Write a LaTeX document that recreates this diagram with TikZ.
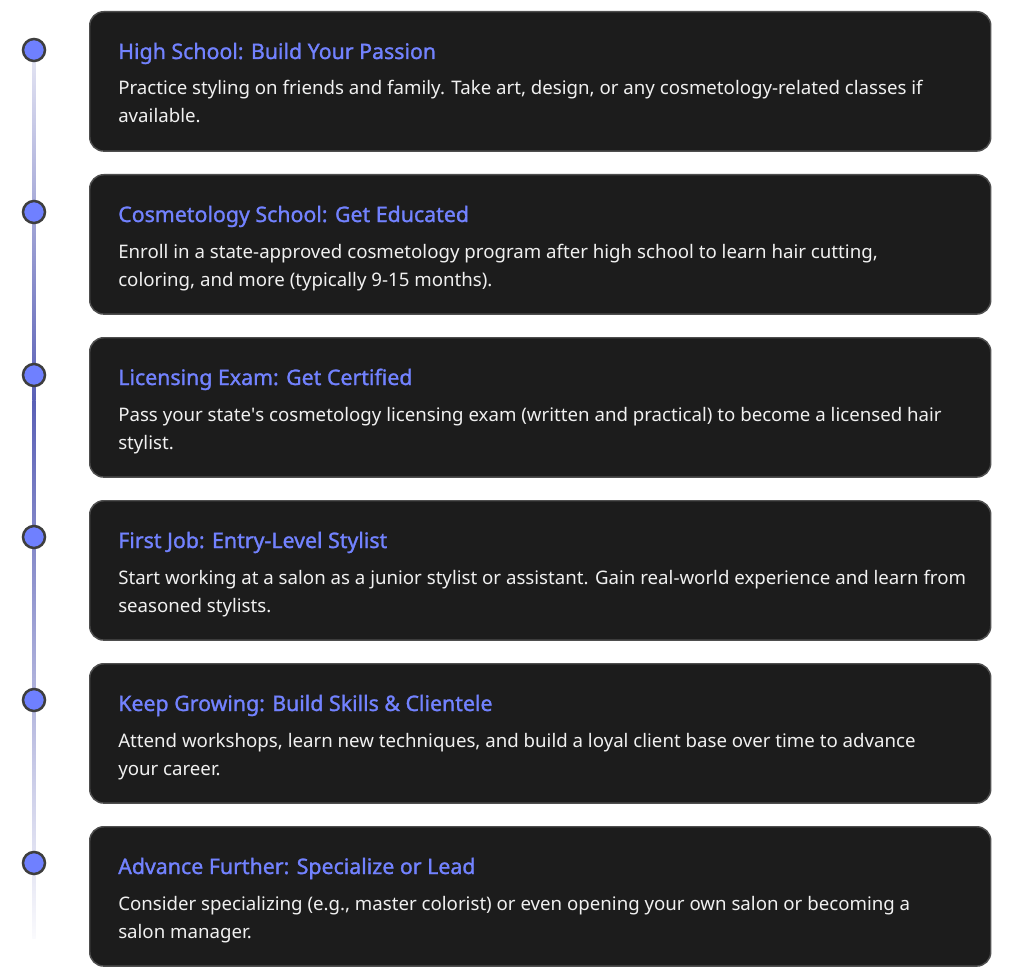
\documentclass[tikz,border=0pt]{standalone}
\usepackage{fontspec}
\setmainfont{Noto Sans}[AutoFakeBold=1.3]
\usepackage{tikz}
\usepackage{xcolor}

\definecolor{cardfill}{HTML}{1C1C1C}
\definecolor{cardline}{HTML}{4E4E4E}
\definecolor{accent}{HTML}{7282FF}
\definecolor{dotfill}{HTML}{6F80FF}
\definecolor{dotline}{HTML}{3E3E3E}
\definecolor{trackcol}{HTML}{5A60B6}

\tikzset{
  card/.style={draw=cardline, line width=1.1pt, fill=cardfill, rounded corners=10.5pt,
    anchor=north west, minimum width=675.75pt, minimum height=104.5pt, inner sep=0pt},
  steptitle/.style={anchor=base west, inner sep=0pt, text=accent,
    font=\fontsize{16}{19}\selectfont\bfseries},
  stepbody/.style={anchor=base west, inner sep=0pt, text=white!94!black, align=left,
    font=\fontsize{14}{21}\selectfont},
  stepdot/.style={circle, draw=dotline, line width=1.9pt, fill=dotfill, minimum size=16.5pt,
    inner sep=0pt}
}

\begin{document}
\begin{tikzpicture}[x=0.75pt,y=-0.75pt]

  \fill[white] (0,0) rectangle (1024,977);
  \useasboundingbox (0,0) rectangle (1024,977);

  % timeline track
  \coordinate (track top) at (34,60);
  \coordinate (track mid) at (34,400);
  \coordinate (track bottom) at (34,938);
  \shade[top color=trackcol!18, bottom color=trackcol]
    ([xshift=-1.3]track top) rectangle ([xshift=1.3]track mid);
  \shade[top color=trackcol, bottom color=trackcol!3]
    ([xshift=-1.3]track mid) rectangle ([xshift=1.3]track bottom);

  % cards
  \node[card] (c1) at (89,11) {};
  \node[card] (c2) at (89,174) {};
  \node[card] (c3) at (89,337) {};
  \node[card] (c4) at (89,500) {};
  \node[card] (c5) at (89,663) {};
  \node[card] (c6) at (89,826) {};

  % dots
  \foreach \y [count=\i] in {50,212,375,537,700,863}{
    \node[stepdot] (d\i) at (34,\y) {};
  }

  % titles and texts (text anchored on its last line)
  \node[steptitle] (t1) at (118,59) {High School: Build Your Passion};
  \node[stepbody] (b1) at (118,123) {Practice styling on friends and family. Take art, design, or any cosmetology-related classes if\\available.};

  \node[steptitle] (t2) at (118,222) {Cosmetology School: Get Educated};
  \node[stepbody] (b2) at (118,286) {Enroll in a state-approved cosmetology program after high school to learn hair cutting,\\coloring, and more (typically 9-15 months).};

  \node[steptitle] (t3) at (118,385) {Licensing Exam: Get Certified};
  \node[stepbody] (b3) at (118,449) {Pass your state\textquotesingle s cosmetology licensing exam (written and practical) to become a licensed hair\\stylist.};

  \node[steptitle] (t4) at (118,548) {First Job: Entry-Level Stylist};
  \node[stepbody] (b4) at (118,612) {Start working at a salon as a junior stylist or assistant. Gain real-world experience and learn from\\seasoned stylists.};

  \node[steptitle] (t5) at (118,711) {Keep Growing: Build Skills \& Clientele};
  \node[stepbody] (b5) at (118,775) {Attend workshops, learn new techniques, and build a loyal client base over time to advance\\your career.};

  \node[steptitle] (t6) at (118,874) {Advance Further: Specialize or Lead};
  \node[stepbody] (b6) at (118,938) {Consider specializing (e.g., master colorist) or even opening your own salon or becoming a\\salon manager.};

\end{tikzpicture}
\end{document}
